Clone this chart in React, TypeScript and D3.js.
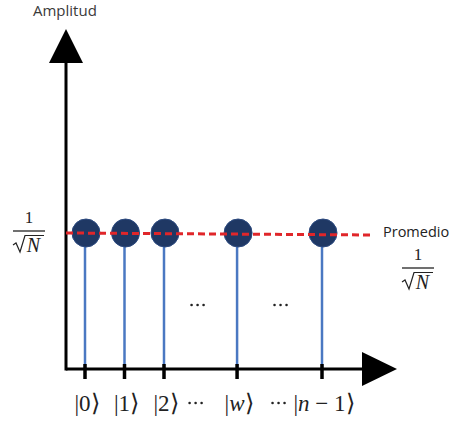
import React from "react";
import * as d3 from "d3";

// ---- data ----
const stateLabels = ["0", "1", "2", "w", "n − 1"];
const statePositions = [0, 1, 2, 3.85, 6]; // relative positions along the basis axis
const amplitudes = [0.4, 0.4, 0.4, 0.4, 0.4];
const ellipsisPositions = [2.85, 4.95];
const labelEllipsisPositions = [2.8, 4.9];

const W = 452;
const H = 421;

export default function App() {
  const x = d3.scaleLinear().domain([0, 6]).range([85, 322]);
  const y = d3.scaleLinear().domain([0, 1]).range([369, 29]);
  const y0 = y(0);
  const axisX = 66;
  const mean = d3.mean(amplitudes) as number;
  const serif = "'Liberation Serif', 'DejaVu Serif', serif";
  const sans = "'Open Sans', 'Noto Sans', sans-serif";

  const frac = (cx: number, barY: number, key: string) => (
    <g key={key} fontFamily={serif} fill="#222">
      <text x={cx} y={barY - 8} fontSize={17} textAnchor="middle">1</text>
      <line x1={cx - 16} x2={cx + 16} y1={barY} y2={barY} stroke="#222" strokeWidth={1.3} />
      <path
        d={`M${cx - 16},${barY + 14} L${cx - 13},${barY + 12} L${cx - 9},${barY + 21} L${cx - 4},${barY + 4.5} L${cx + 15},${barY + 4.5}`}
        fill="none" stroke="#222" strokeWidth={1.2} strokeLinejoin="miter" />
      <text x={cx + 4.5} y={barY + 21} fontSize={20} textAnchor="middle" fontStyle="italic">N</text>
    </g>
  );

  const bracket = (cx: number, key: string) => null;

  return (
    <svg width={W} height={H} style={{ position: "absolute", left: 0, top: 0, background: "#fff" }}>
      {/* axis label */}
      <text x={33} y={16} fontFamily={sans} fontSize={15} fill="#3a3a3a">Amplitud</text>

      {/* stems */}
      {amplitudes.map((a, i) => (
        <line key={"s" + i} x1={x(statePositions[i])} x2={x(statePositions[i])} y1={y(a)} y2={y0}
          stroke="#4a78c2" strokeWidth={2.5} />
      ))}

      {/* axes */}
      <line x1={axisX} x2={axisX} y1={60} y2={y0 + 1.5} stroke="#000" strokeWidth={3} />
      <path d={`M${axisX},29 L${axisX - 17},63 L${axisX + 17},63 Z`} fill="#000" />
      <line x1={axisX} x2={364} y1={y0} y2={y0} stroke="#000" strokeWidth={3} />
      <path d={`M397,${y0} L362,${y0 - 17} L362,${y0 + 17} Z`} fill="#000" />

      {/* ticks */}
      {statePositions.map((p, i) => (
        <line key={"t" + i} x1={x(p)} x2={x(p)} y1={y0 - 5} y2={y0 + 10} stroke="#000" strokeWidth={3.5} />
      ))}

      {/* markers */}
      {amplitudes.map((a, i) => (
        <circle key={"c" + i} cx={x(statePositions[i]) + 1} cy={y(a)} r={14} fill="#1f3864" stroke="#2c4a80" strokeWidth={1} />
      ))}

      {/* mean line */}
      <line x1={axisX} x2={373} y1={y(mean)} y2={y(mean) + 2} stroke="#e0262a" strokeWidth={3} strokeDasharray="7,4" />
      <text x={383} y={237} fontFamily={sans} fontSize={14.5} fill="#222">Promedio</text>

      {frac(29, 231, "fl")}
      {frac(418, 268, "fr")}

      {/* ellipsis between stems */}
      {ellipsisPositions.map((p, i) => (
        <g key={"e" + i}>
          {[-6, 0, 6].map((d) => (
            <circle key={d} cx={x(p) + d} cy={305} r={1.3} fill="#222" />
          ))}
        </g>
      ))}

      {/* basis state labels */}
      {stateLabels.map((l, i) => {
        const isN = l.startsWith("n");
        const isItalic = l === "w" || isN;
        return (
          <text key={"l" + i} x={x(statePositions[i]) + 2} y={411} fontFamily={serif} fontSize={23}
            textAnchor="middle" fill="#222">
            <tspan>|</tspan>
            {isN ? (
              <>
                <tspan fontStyle="italic">n</tspan>
                <tspan> − 1</tspan>
              </>
            ) : isItalic ? (
              <tspan fontStyle="italic">{l}</tspan>
            ) : (
              <tspan>{l}</tspan>
            )}
            <tspan fontFamily="'DejaVu Sans', sans-serif" fontSize={24} fontWeight={300}>⟩</tspan>
          </text>
        );
      })}
      {labelEllipsisPositions.map((p, i) => (
        <g key={"le" + i}>
          {[-6, 0, 6].map((d) => (
            <circle key={d} cx={x(p) + d} cy={403} r={1.3} fill="#222" />
          ))}
        </g>
      ))}
    </svg>
  );
}
